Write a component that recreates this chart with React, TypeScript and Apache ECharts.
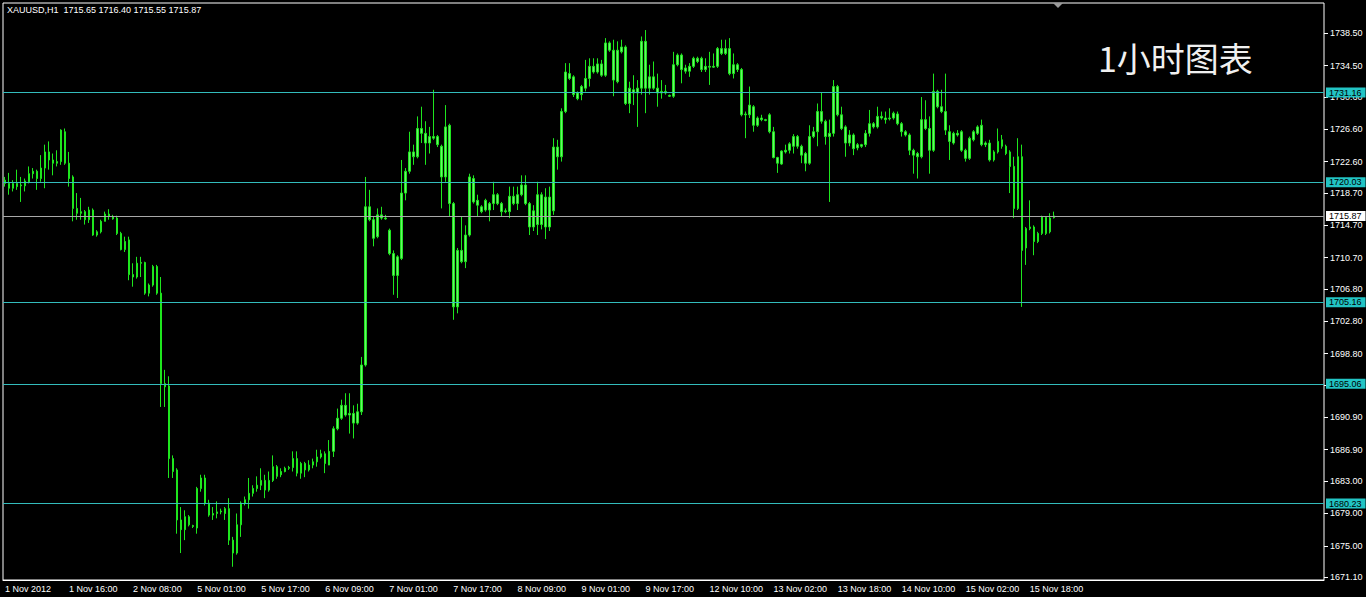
import React, { useEffect, useRef } from "react";
import * as echarts from "echarts";

// [open, close, low, high] per hourly bar, XAUUSD H1 starting 1 Nov 2012 00:00
const barsWeek1: number[][] = [
  [1719.9,1720.3,1719.5,1720.7],[1719.9,1719.3,1718.5,1721.2],[1719.3,1719.9,1718.9,1720.3],[1719.9,1719.5,1719.1,1721.6],
  [1719.6,1719.7,1717.6,1720.7],[1719.6,1720.2,1718.9,1720.5],[1720.1,1721.1,1719.9,1722.0],[1721.1,1721.4,1720.5,1721.8],
  [1721.4,1720.5,1719.1,1721.6],[1720.5,1721.8,1720.1,1723.4],[1721.8,1723.8,1719.3,1724.7],[1723.8,1722.8,1721.6,1725.1],
  [1722.8,1722.4,1720.9,1723.6],[1722.4,1722.6,1722.0,1724.0],[1722.6,1726.5,1722.2,1726.6],[1726.3,1722.4,1722.2,1726.7],
  [1722.4,1720.5,1719.5,1723.8],[1720.7,1716.8,1715.2,1720.9],[1716.8,1716.2,1715.4,1718.7],[1716.2,1716.4,1715.4,1718.1],
  [1716.4,1715.4,1714.8,1716.6],[1715.4,1716.6,1715.0,1717.0],[1716.6,1713.5,1713.4,1716.8],[1713.5,1713.9,1713.3,1714.1],
  [1713.9,1715.2,1713.7,1715.4],[1715.2,1716.1,1715.2,1716.4],[1716.1,1715.8,1715.4,1716.7],[1715.8,1715.5,1715.4,1716.0],
  [1715.6,1713.7,1713.5,1715.9],[1713.7,1711.7,1711.6,1713.9],[1711.7,1712.7,1711.4,1713.3],[1712.9,1708.6,1707.9,1713.3],
  [1708.6,1708.3,1707.1,1710.0],[1708.3,1710.0,1708.1,1710.8],[1710.0,1710.1,1708.3,1710.8],[1710.1,1706.3,1706.1,1710.2],
  [1706.3,1707.3,1705.9,1707.5],[1707.3,1709.6,1707.1,1709.8],[1709.6,1706.3,1706.1,1709.8],[1706.3,1695.1,1692.2,1708.3],
  [1695.1,1694.7,1692.2,1696.8],[1694.8,1685.8,1683.4,1696.0],[1685.8,1684.2,1683.4,1686.2],[1684.4,1678.2,1676.5,1684.6],
  [1678.2,1677.0,1674.1,1679.8],[1677.0,1678.6,1675.7,1679.4],[1678.6,1677.6,1677.4,1678.8],
];
const barsWeek2: number[][] = [
  [1677.5,1677.4,1677.2,1677.6],[1677.2,1682.1,1676.5,1682.3],[1682.1,1683.4,1681.7,1683.8],[1683.4,1680.3,1680.0,1683.8],
  [1680.3,1678.8,1678.6,1680.7],[1678.8,1679.0,1678.2,1679.8],[1679.0,1679.2,1678.4,1680.5],[1679.2,1679.3,1678.9,1679.6],
  [1679.0,1679.6,1678.2,1679.8],[1679.6,1675.7,1675.1,1680.9],[1675.7,1674.1,1672.4,1676.1],[1674.1,1677.6,1673.9,1679.0],
  [1677.6,1680.3,1676.1,1680.5],[1680.3,1680.7,1680.0,1681.1],[1680.7,1681.5,1679.6,1683.4],[1681.5,1682.1,1681.1,1682.5],
  [1682.1,1682.5,1681.7,1683.6],[1682.5,1683.1,1681.9,1684.6],[1683.1,1681.9,1680.9,1683.8],[1681.9,1683.1,1681.7,1684.2],
  [1683.1,1684.8,1682.9,1686.2],[1684.8,1683.6,1683.3,1685.0],[1683.8,1684.2,1683.5,1684.6],[1684.2,1684.6,1684.1,1684.8],
  [1684.6,1684.7,1684.4,1684.9],[1684.7,1685.8,1684.2,1686.7],[1685.8,1684.0,1683.6,1686.7],[1684.0,1685.2,1683.3,1685.4],
  [1685.2,1684.4,1683.5,1685.4],[1684.4,1685.0,1684.2,1685.6],[1685.0,1685.4,1684.6,1685.8],[1685.4,1686.0,1684.8,1686.9],
  [1686.0,1686.4,1685.8,1686.9],[1686.4,1685.2,1684.0,1686.7],[1685.0,1686.7,1685.0,1688.1],[1686.7,1689.5,1686.0,1689.8],
  [1689.5,1690.8,1689.3,1692.0],[1690.8,1692.4,1690.6,1693.1],[1692.4,1691.2,1691.0,1693.9],[1691.2,1691.4,1688.9,1693.9],
  [1691.4,1690.2,1688.3,1692.4],[1690.2,1691.6,1690.0,1692.6],[1691.6,1697.4,1691.2,1698.4],[1697.4,1717.0,1697.2,1720.7],
  [1717.0,1715.4,1715.2,1719.1],[1715.4,1713.1,1712.1,1715.8],[1713.3,1716.0,1713.1,1716.8],[1716.0,1715.6,1715.4,1717.0],
  [1715.6,1715.5,1715.4,1716.0],[1714.1,1711.2,1711.0,1714.3],[1711.2,1708.5,1706.1,1711.6],[1708.5,1710.8,1705.7,1711.0],
  [1710.6,1718.7,1710.4,1722.8],[1718.7,1721.4,1717.8,1721.8],[1721.4,1723.8,1721.1,1726.3],[1723.8,1723.2,1722.2,1724.7],
  [1723.2,1726.7,1723.0,1728.2],[1726.7,1726.1,1724.9,1729.4],[1726.1,1724.9,1722.2,1727.6],[1724.9,1725.7,1723.6,1726.9],
  [1725.7,1725.5,1725.3,1731.5],[1725.7,1724.7,1724.4,1725.9],[1724.5,1720.7,1716.8,1724.7],[1720.7,1726.9,1720.1,1729.6],
  [1727.1,1717.4,1715.8,1727.3],[1717.4,1704.6,1703.0,1717.6],[1704.6,1711.6,1703.8,1711.9],[1711.6,1710.2,1710.0,1715.8],
  [1710.2,1713.5,1709.4,1714.7],[1713.5,1720.7,1713.3,1721.1],[1720.5,1717.6,1717.4,1720.9],[1717.8,1717.2,1715.8,1718.5],
  [1717.0,1716.4,1716.2,1717.2],[1716.6,1717.8,1716.4,1718.0],[1717.4,1716.6,1715.2,1717.6],[1717.4,1718.5,1716.6,1720.1],
  [1718.5,1717.4,1717.2,1718.7],[1717.4,1716.4,1715.8,1717.6],[1716.4,1716.5,1716.2,1716.8],[1716.4,1718.3,1715.6,1719.5],
  [1718.3,1717.4,1717.2,1719.5],[1717.4,1718.5,1716.6,1719.5],[1718.5,1719.7,1718.3,1720.9],[1719.7,1717.4,1717.2,1720.9],
  [1717.4,1714.5,1713.5,1717.6],[1714.5,1716.5,1714.0,1717.2],[1718.5,1714.8,1713.5,1720.1],[1714.8,1718.5,1714.2,1718.8],
  [1718.2,1714.5,1713.0,1719.3],[1714.5,1718.2,1714.0,1719.5],[1716.5,1724.4,1716.0,1725.5],[1724.4,1723.2,1721.6,1725.3],
  [1723.2,1728.8,1722.6,1729.2],[1728.8,1733.7,1728.6,1734.8],[1733.5,1732.9,1732.7,1734.8],[1733.1,1730.9,1730.6,1733.3],
  [1731.1,1730.4,1730.2,1731.3],[1730.9,1731.9,1730.2,1732.1],[1731.7,1732.9,1731.3,1735.2],[1732.9,1734.4,1731.9,1735.4],
  [1734.4,1733.7,1733.5,1735.4],[1733.7,1734.7,1733.5,1735.4],[1734.7,1733.3,1733.1,1735.2],[1733.3,1737.3,1733.1,1737.9],
  [1737.3,1736.4,1736.2,1737.5],[1736.4,1732.7,1730.7,1737.7],[1732.5,1736.4,1732.3,1737.5],[1736.2,1736.8,1736.0,1737.7],
  [1736.8,1729.8,1729.6,1737.0],[1729.8,1731.7,1728.6,1732.5],[1731.5,1731.1,1729.6,1733.3],[1731.1,1731.7,1726.9,1732.7],
  [1731.7,1737.5,1730.9,1738.1],[1737.5,1731.7,1728.6,1738.9],[1731.7,1733.1,1730.9,1734.6],[1733.1,1731.7,1731.5,1735.0],
  [1731.7,1731.1,1729.4,1733.5],[1731.1,1731.3,1730.4,1732.7],[1731.3,1731.1,1730.9,1732.1],
];
const barsWeek3: number[][] = [
  [1730.8,1730.7,1730.6,1730.9],[1730.7,1734.6,1730.5,1736.2],[1734.6,1735.8,1734.4,1736.0],[1735.8,1734.0,1732.3,1736.0],
  [1734.2,1733.8,1733.5,1734.6],[1733.8,1734.4,1733.1,1734.8],[1734.4,1735.4,1734.2,1735.6],[1735.4,1735.0,1734.8,1735.6],
  [1735.4,1734.0,1733.7,1735.6],[1734.0,1734.4,1733.7,1735.4],[1734.4,1734.3,1732.1,1736.2],[1734.3,1734.4,1734.2,1736.0],
  [1734.4,1736.6,1734.2,1736.8],[1736.6,1736.0,1735.8,1737.7],[1736.0,1736.6,1735.8,1737.7],[1736.6,1733.5,1733.3,1737.9],
  [1733.5,1734.6,1732.9,1736.0],[1734.6,1734.0,1733.7,1734.8],[1734.0,1728.4,1728.2,1734.2],[1728.4,1728.5,1725.5,1728.8],
  [1728.4,1729.6,1728.0,1731.9],[1729.4,1727.1,1726.3,1729.6],[1727.1,1728.0,1726.9,1728.2],[1728.0,1727.8,1727.6,1728.4],
  [1727.8,1727.7,1727.6,1727.9],[1728.4,1726.3,1726.1,1728.6],[1726.3,1723.1,1723.0,1726.9],[1723.1,1722.4,1721.2,1723.2],
  [1722.3,1723.9,1722.2,1724.0],[1723.8,1724.0,1723.6,1724.7],[1724.0,1724.8,1723.6,1725.0],[1724.5,1725.7,1723.6,1726.0],
  [1725.7,1724.5,1724.2,1725.9],[1724.5,1723.4,1722.4,1724.7],[1723.6,1722.4,1721.4,1723.8],[1722.4,1725.7,1722.2,1727.1],
  [1725.7,1726.3,1725.5,1726.9],[1726.3,1728.8,1724.5,1729.8],[1728.8,1727.6,1727.3,1731.1],[1727.6,1725.7,1724.7,1727.8],
  [1725.7,1726.1,1717.6,1727.8],[1726.1,1731.9,1725.7,1732.7],[1731.9,1728.4,1728.2,1732.1],[1728.4,1726.7,1726.5,1729.4],
  [1726.9,1724.9,1723.2,1727.1],[1724.9,1725.9,1724.5,1726.5],[1725.9,1724.2,1723.4,1726.1],[1724.3,1724.7,1724.0,1724.9],
  [1724.7,1724.5,1724.3,1724.8],[1724.7,1726.1,1724.4,1726.5],[1726.1,1727.3,1725.7,1729.0],[1727.3,1726.9,1726.7,1727.5],
  [1726.9,1728.2,1726.7,1729.4],[1728.2,1728.0,1727.8,1728.8],[1728.0,1727.8,1727.3,1728.8],[1727.9,1728.0,1727.7,1729.2],
  [1728.0,1728.6,1727.8,1728.8],[1728.5,1727.3,1727.1,1728.8],[1727.3,1726.3,1725.7,1727.5],[1726.3,1725.9,1725.7,1726.5],
  [1725.9,1724.0,1723.4,1726.1],[1724.0,1723.4,1721.1,1724.2],[1723.6,1723.2,1720.5,1723.8],[1723.2,1727.8,1723.0,1730.6],
  [1727.8,1726.7,1726.5,1730.2],[1726.7,1724.0,1721.1,1728.2],[1724.0,1731.3,1723.8,1733.5],[1731.3,1729.4,1729.2,1731.5],
  [1729.4,1728.8,1728.6,1731.5],[1728.8,1726.5,1725.9,1733.5],[1726.3,1725.1,1722.8,1727.1],[1724.9,1726.1,1724.7,1726.3],
  [1726.1,1725.9,1725.7,1726.5],[1726.3,1724.0,1723.8,1726.5],[1724.0,1723.0,1722.6,1724.2],[1723.0,1725.5,1722.8,1725.7],
  [1725.3,1726.3,1725.1,1726.5],[1726.1,1726.9,1725.9,1727.1],[1727.1,1724.7,1724.5,1727.8],[1724.7,1724.9,1724.4,1725.1],
  [1724.9,1722.8,1722.6,1725.3],[1722.8,1723.8,1722.6,1724.0],[1723.8,1725.1,1723.6,1726.7],[1725.3,1724.5,1724.2,1725.9],
  [1724.5,1723.6,1723.4,1724.7],[1723.8,1722.0,1718.7,1724.0],[1722.0,1716.8,1715.6,1723.2],[1716.8,1723.2,1716.6,1725.5],
  [1723.2,1711.6,1704.6,1724.7],[1711.9,1714.3,1709.8,1714.5],[1714.3,1714.5,1714.1,1717.8],[1714.5,1712.7,1711.0,1714.7],
  [1712.7,1713.7,1712.5,1713.9],[1713.7,1715.8,1713.5,1715.9],[1715.7,1713.7,1713.5,1715.8],[1713.9,1715.6,1713.7,1716.2],
  [1715.65,1715.87,1715.55,1716.40],
];

const xTickLabels = [
  "1 Nov 2012", "1 Nov 16:00", "2 Nov 08:00", "5 Nov 01:00", "5 Nov 17:00", "6 Nov 09:00",
  "7 Nov 01:00", "7 Nov 17:00", "8 Nov 09:00", "9 Nov 01:00", "9 Nov 17:00", "12 Nov 10:00",
  "13 Nov 02:00", "13 Nov 18:00", "14 Nov 10:00", "15 Nov 02:00", "15 Nov 18:00",
];
const yTickValues = [
  1671.1, 1675.0, 1679.0, 1683.0, 1686.9, 1690.9, 1694.9, 1698.8, 1702.8,
  1706.8, 1710.7, 1714.7, 1718.7, 1722.6, 1726.6, 1730.6, 1734.5, 1738.5,
];
const levelLines = [1731.16, 1720.03, 1705.16, 1695.06, 1680.23];
const lastPrice = 1715.87;
const header = "XAUUSD,H1  1715.65 1716.40 1715.55 1715.87";
const title = "1小时图表";

const TICK_STEP = 16;
const SLOTS = 330;

export default function App() {
  const ref = useRef<HTMLDivElement>(null);
  useEffect(() => {
    document.body.style.margin = "0";
    const chart = echarts.init(ref.current!, null, { renderer: "svg" });
    const ohlc = [...barsWeek1, ...barsWeek2, ...barsWeek3];
    const cats: string[] = [];
    for (let i = 0; i < SLOTS; i++) {
      const k = i / TICK_STEP;
      cats.push(i % TICK_STEP === 0 && k < xTickLabels.length ? xTickLabels[k] : "");
    }
    const showTick = (i: number) => i % TICK_STEP === 0 && i / TICK_STEP < xTickLabels.length;
    const font = "Liberation Sans";
    const cyan = "#33bcbc";
    const lineData: any[] = levelLines.map((v) => ({
      yAxis: v,
      lineStyle: { color: cyan },
      label: { backgroundColor: "#22c4c4", color: "#000" },
    }));
    lineData.push({
      yAxis: lastPrice,
      lineStyle: { color: "#a8a8a8" },
      label: { backgroundColor: "#ffffff", color: "#000" },
    });

    chart.setOption({
      animation: false,
      backgroundColor: "#000000",
      grid: {
        left: 3, right: 42, top: 3, bottom: 17,
        show: true, borderColor: "#ffffff", borderWidth: 1,
      },
      xAxis: {
        type: "category",
        data: cats,
        boundaryGap: true,
        axisLine: { show: true, lineStyle: { color: "#ffffff" } },
        axisTick: { interval: showTick, alignWithLabel: true, length: 4, lineStyle: { color: "#ffffff" } },
        axisLabel: {
          interval: showTick, color: "#ffffff", fontSize: 9, fontFamily: font,
          align: "left", margin: 4,
        },
        splitLine: { show: false },
      },
      yAxis: {
        type: "value",
        position: "right",
        min: 1670.76,
        max: 1742.25,
        axisLine: { show: false },
        axisTick: { show: true, customValues: yTickValues, length: 4, lineStyle: { color: "#ffffff" } },
        axisLabel: {
          customValues: yTickValues,
          formatter: (v: number) => v.toFixed(2),
          color: "#ffffff", fontSize: 9, fontFamily: font, margin: 6,
        },
        splitLine: { show: false },
      },
      series: [
        {
          type: "candlestick",
          data: ohlc,
          barWidth: 2,
          itemStyle: {
            color: "#6cf06c", color0: "#6cf06c",
            borderColor: "#1ee61e", borderColor0: "#1ee61e", borderWidth: 1,
          },
          markLine: {
            silent: true,
            symbol: ["none", "none"],
            animation: false,
            lineStyle: { type: "solid", width: 1 },
            label: {
              show: true, position: "end", distance: 2,
              formatter: (p: any) => Number(p.value).toFixed(2),
              fontSize: 9, fontFamily: font, padding: [1, 4, 0, 3],
            },
            data: lineData,
          },
        },
      ],
      graphic: [
        {
          type: "text", left: 7, top: 5,
          style: { text: header, fill: "#ffffff", font: `9px "${font}"` },
        },
        {
          type: "text", left: 1098, top: 40,
          style: { text: title, fill: "#f0f0f0", font: `34px "Noto Sans CJK SC"` },
        },
        {
          type: "polygon",
          shape: { points: [[1053, 3], [1063, 3], [1058, 8]] },
          style: { fill: "#9a9a9a" },
        },
      ],
    });
    return () => chart.dispose();
  }, []);
  return <div ref={ref} style={{ width: 1366, height: 597, position: "fixed", left: 0, top: 0 }} />;
}
